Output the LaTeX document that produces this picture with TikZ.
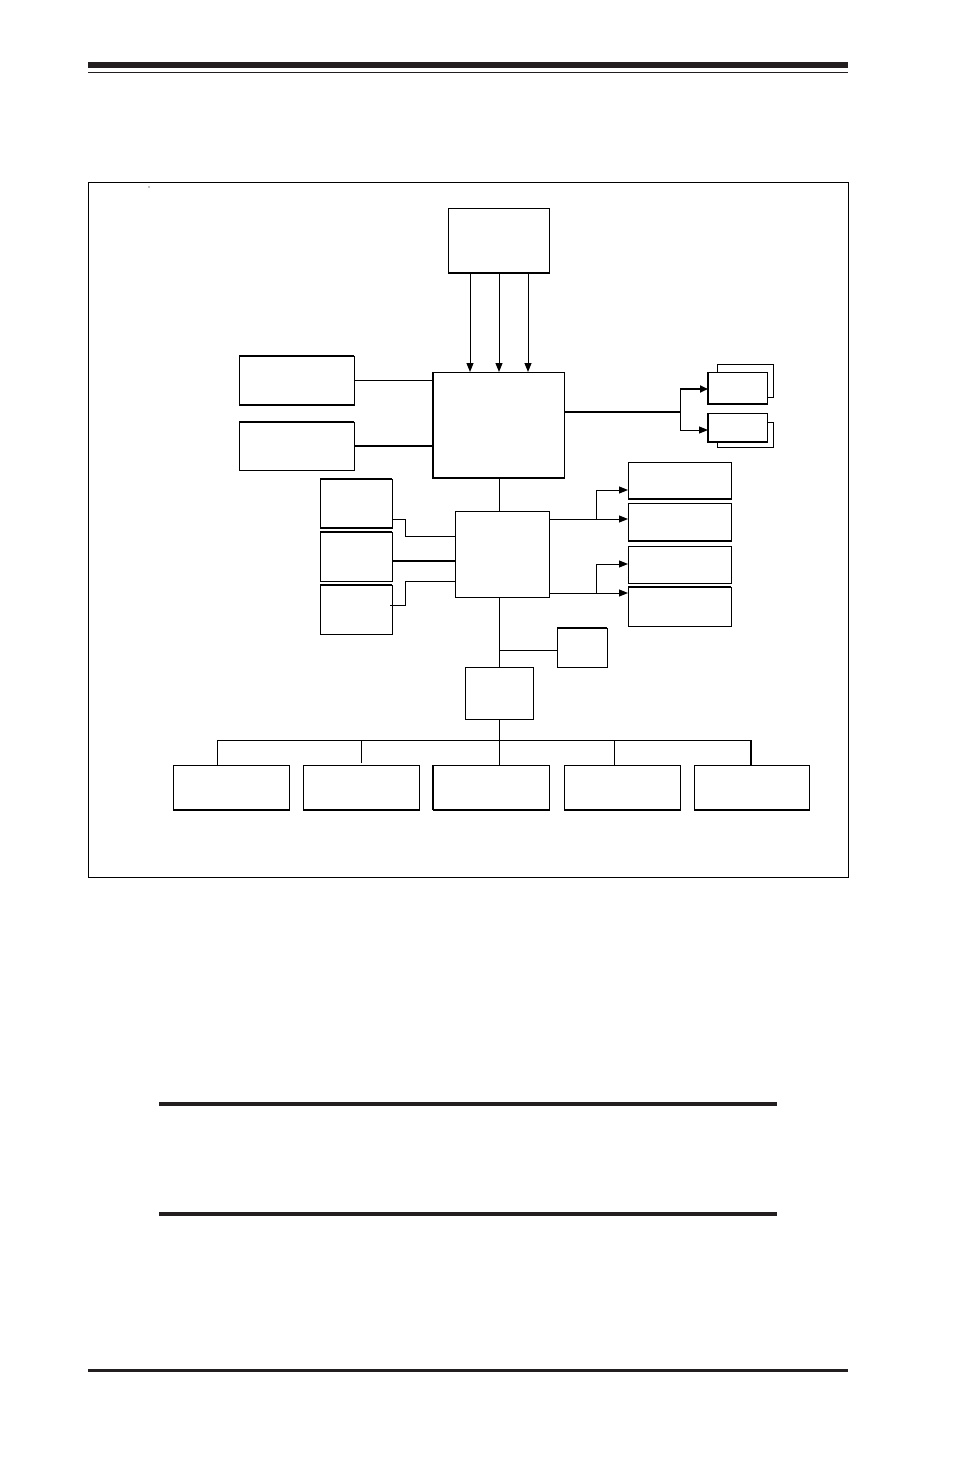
\documentclass[tikz,border=0pt]{standalone}
\usetikzlibrary{arrows.meta,calc}
\newcommand\mybox[5]{\node[blk,minimum width={(#4-#2)*1pt},minimum height={(#5-#3)*1pt}] (#1) at ({(#2+#4)/2},{(#3+#5)/2}) {};}
\definecolor{rule}{HTML}{231F20}
\begin{document}
\begin{tikzpicture}[x=1pt,y=-1pt,
  blk/.style={draw,line width=1pt,fill=white,inner sep=0pt,outer sep=0pt},
  ln/.style={line width=1pt},
  tk/.style={line width=2pt},
  arr/.style={line width=1pt,-{Triangle[length=9pt,width=7pt]}},
  tarr/.style={line width=2pt,-{Triangle[length=8pt,width=7pt]}}]
\useasboundingbox (0,0) rectangle (954,1458);
\fill[white] (0,0) rectangle (954,1458);
% page rules
\fill[rule] (88,62) rectangle (848,68);
\draw[rule,line width=1.5pt] (88,72.5) -- (848,72.5);
\fill[rule] (159,1102) rectangle (777,1106);
\fill[rule] (159,1212) rectangle (777,1216);
\fill[rule] (88,1369) rectangle (848,1372);
% frame
\draw[line width=0.9pt] (88,182) rectangle (848,877);
\fill (149,187) circle (0.6);
% helper coordinates
\coordinate (x470) at (470,0);
\coordinate (x499) at (499,0);
\coordinate (x528) at (528,0);
\coordinate (y412) at (0,412);
\coordinate (y519) at (0,519);
\coordinate (y536) at (0,536);
\coordinate (y561) at (0,561);
\coordinate (y581) at (0,581);
\coordinate (y605) at (0,605);
\coordinate (y593) at (0,593);
\coordinate (y490) at (0,490);
\coordinate (y564) at (0,564);
\coordinate (y650) at (0,650);
\coordinate (y740) at (0,740);
\coordinate (y763) at (0,763);
% boxes
\mybox{CPU}{448}{208}{549}{273}
\mybox{NB}{433}{372}{564}{478}
\mybox{A}{239}{356}{354}{405}
\mybox{B}{239}{422}{354}{470}
% stacked cards
\draw[blk] (717,364) rectangle (773,397);
\mybox{C1}{708}{372}{767}{404}
\draw[blk] (717,422) rectangle (773,447);
\mybox{C2}{708}{413}{767}{442}
\mybox{SB}{455}{511}{549}{597}
\mybox{L1}{320}{479}{392}{528}
\mybox{L2}{320}{532}{392}{581}
\mybox{L3}{320}{585}{392}{634}
\mybox{R1}{628}{462}{731}{499}
\mybox{R2}{628}{503}{731}{541}
\mybox{R3}{628}{546}{731}{583}
\mybox{R4}{628}{587}{731}{626}
\mybox{SM}{557}{628}{607}{667}
\mybox{HUB}{465}{667}{533}{719}
\mybox{D1}{173}{765}{289}{810}
\mybox{D2}{303}{765}{419}{810}
\mybox{D3}{433}{765}{549}{810}
\mybox{D4}{564}{765}{680}{810}
\mybox{D5}{694}{765}{809}{810}
% thick edges
\draw[tk] (CPU.south west) -- (CPU.south east);
\draw[tk] (NB.north west) -- (NB.south west) -- (NB.south east);
\draw[tk] (A.north west) -- (A.north east);
\draw[tk] (A.south west) -- (A.south east);
\draw[tk] (B.north west) -- (B.north east);
\draw[tk] (C1.north west) -- (C1.south west) -- (C1.south east);
\draw[tk] (C2.north west) -- (C2.south west) -- (C2.south east);
\draw[tk] (L1.north west) -- (L1.north east);
\draw[tk] (L1.south west) -- (L1.south east);
\draw[tk] (L2.north west) -- (L2.north east);
\draw[tk] (L3.north west) -- (L3.north east);
\draw[tk] (R1.south west) -- (R1.south east);
\draw[tk] (R2.south west) -- (R2.south east);
\draw[tk] (R4.north west) -- (R4.north east);
\draw[tk] (SM.north west) -- (SM.north east);
\foreach \d in {D1,D2,D3,D4,D5} \draw[tk] (\d.south west) -- (\d.south east);
\draw[tk] (D3.north west) -- (D3.south west);
% CPU to NB
\foreach \c in {x470,x499,x528} \draw[arr] (CPU.south -| \c) -- (NB.north -| \c);
% memory to NB
\draw[ln] (A.east) -- (A.east -| NB.west);
\draw[tk] (B.east) -- (B.east -| NB.west);
% NB to cards
\coordinate (sp) at (680,412);
\draw[tk] (NB.east |- y412) -- (sp);
\draw[ln] (680,388) -- (680,430);
\draw[tarr] (680,389) -- (C1.west |- 0,389);
\draw[arr] (680,430) -- (C2.west |- 0,430);
% NB to SB
\draw[ln] (NB.south -| x499) -- (SB.north -| x499);
% left devices to SB
\draw[ln] (L1.east |- y519) -- (405,519) |- (SB.west |- y536);
\draw[tk] (L2.east |- y561) -- (SB.west |- y561);
\draw[ln] ($(L3.east |- y605)+(-2,0)$) -- (405,605) |- (SB.west |- y581);
% SB to right devices
\draw[arr] (SB.east |- y519) -- (R2.west |- y519);
\draw[arr] (596,519) |- (R1.west |- y490);
\draw[arr] (SB.east |- y593) -- (R4.west |- y593);
\draw[arr] (596,593) |- (R3.west |- y564);
% SB down to hub and small box
\draw[ln] (SB.south -| x499) -- (HUB.north -| x499);
\draw[ln] (x499 |- y650) -- (SM.west |- y650);
% hub bus
\draw[ln] (HUB.south -| x499) -- (x499 |- y740);
\draw[ln] (217,740) -- (751,740);
\draw[ln] (217,740) -- (D1.north -| 217,0);
\draw[ln] (361,740) -- (361,763);
\draw[ln] (x499 |- y740) -- (D3.north -| x499);
\draw[ln] (614,740) -- (D4.north -| 614,0);
\draw[tk] (751,740) -- (D5.north -| 751,0);
\end{tikzpicture}
\end{document}
